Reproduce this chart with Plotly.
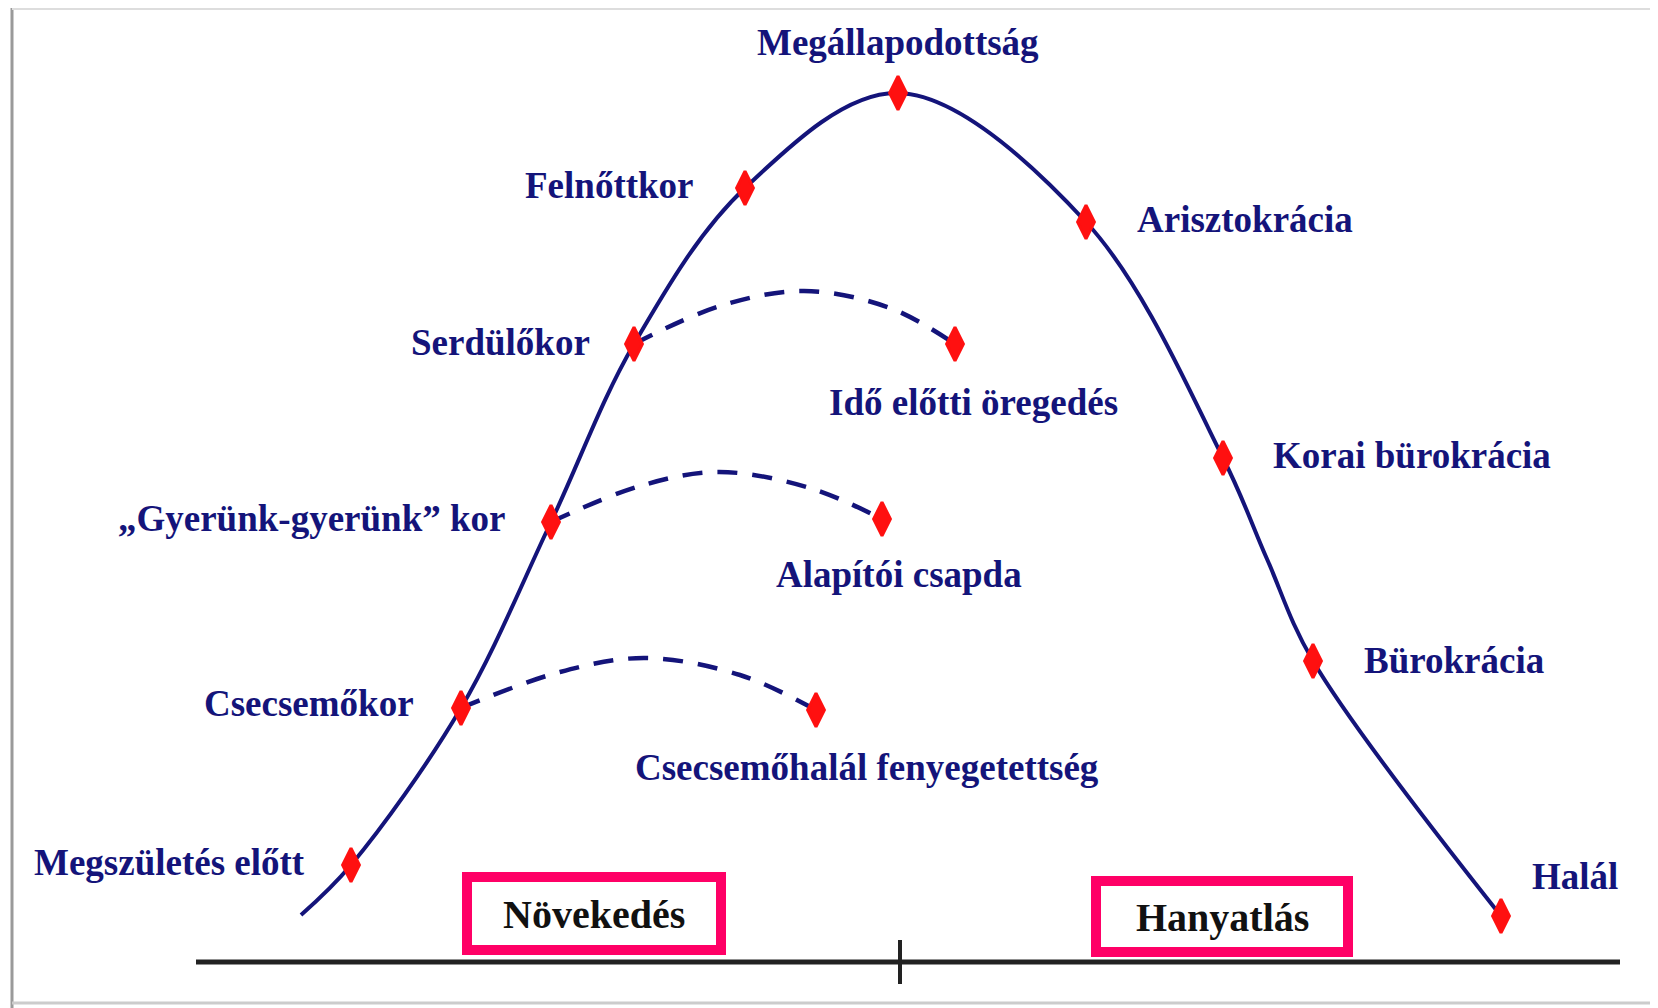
import plotly.graph_objects as go

# Main life-cycle curve (x, y in picture units, y grows downward)
curve_x = [301, 351, 461, 551, 634, 745, 898, 1086, 1223, 1267, 1313, 1501]
curve_y = [915, 865, 708, 522, 344, 188, 93, 222, 458, 559, 661, 916]

stage_names = ["Megszületés előtt", "Csecsemőkor", "„Gyerünk-gyerünk” kor", "Serdülőkor",
               "Felnőttkor", "Megállapodottság", "Arisztokrácia", "Korai bürokrácia",
               "Bürokrácia", "Halál"]
stage_x = [351, 461, 551, 634, 745, 898, 1086, 1223, 1313, 1501]
stage_y = [865, 708, 522, 344, 188, 93, 222, 458, 661, 916]

# Pathological branches (dashed)
trap_names = ["Csecsemőhalál fenyegetettség", "Alapítói csapda", "Idő előtti öregedés"]
trap_x = [[461, 560, 645, 740, 816], [551, 640, 719, 810, 882], [634, 720, 804, 890, 955]]
trap_y = [[708, 672, 658, 675, 710], [522, 486, 472, 488, 519], [344, 306, 291, 308, 344]]

phase_names = ["Növekedés", "Hanyatlás"]

NAVY = "#14147a"
RED = "#ff1010"
PINK = "#ff0066"
FONT = "Liberation Serif"
OFF = 8  # page body margin compensation

fig = go.Figure()

fig.add_trace(go.Scatter(x=curve_x, y=curve_y, mode="lines",
                         line=dict(color=NAVY, width=4, shape="spline", smoothing=1.0),
                         hoverinfo="skip"))
for tx, ty in zip(trap_x, trap_y):
    fig.add_trace(go.Scatter(x=tx, y=ty, mode="lines",
                             line=dict(color=NAVY, width=4.5, shape="spline", dash="20px,15px"),
                             hoverinfo="skip"))
    fig.add_trace(go.Scatter(x=[tx[-1]], y=[ty[-1]], mode="markers",
                             marker=dict(symbol="diamond-tall", size=24, color=RED,
                                         line=dict(color=RED, width=3)),
                             hoverinfo="skip"))
fig.add_trace(go.Scatter(x=stage_x, y=stage_y, mode="markers",
                         marker=dict(symbol="diamond-tall", size=24, color=RED,
                                     line=dict(color=RED, width=3)),
                         hoverinfo="skip"))

tf = dict(family=FONT, size=37, color=NAVY, weight="bold")

# stage labels: (dx, dy, anchor)
label_pos = [(-44, -3, "right"), (-45, -5, "right"), (-43, -4, "right"), (-42, -2, "right"),
             (-49, -3, "right"), (0, -51, "center"), (49, -3, "left"), (48, -3, "left"),
             (49, -1, "left"), (29, -40, "left")]
for name, x, y, (dx, dy, anc) in zip(stage_names, stage_x, stage_y, label_pos):
    fig.add_annotation(x=x + dx, y=y + dy, text=name, showarrow=False, xanchor=anc,
                       yanchor="middle", font=tf)

trap_label_off = [(51, 57), (17, 55), (18, 58)]
for name, tx, ty, (dx, dy) in zip(trap_names, trap_x, trap_y, trap_label_off):
    fig.add_annotation(x=tx[-1] + dx, y=ty[-1] + dy, text=name,
                       showarrow=False, xanchor="center", yanchor="middle", font=tf)

# axis line and centre tick
fig.add_shape(type="line", x0=196, x1=1620, y0=962, y1=962, line=dict(color="#222222", width=5))
fig.add_shape(type="line", x0=900, x1=900, y0=940, y1=984, line=dict(color="#222222", width=4))

# phase boxes
boxes = [(467, 877, 721, 950), (1096, 881, 1348, 952)]
for (x0, y0, x1, y1), name in zip(boxes, phase_names):
    fig.add_shape(type="rect", x0=x0, y0=y0, x1=x1, y1=y1,
                  line=dict(color=PINK, width=10), fillcolor="white", layer="below")
    fig.add_annotation(x=(x0 + x1) / 2, y=(y0 + y1) / 2 + 1, text=name, showarrow=False,
                       font=dict(family=FONT, size=40, color="#111111", weight="bold"))

# frame lines
fig.add_shape(type="line", x0=12, x1=12, y0=8, y1=1008, line=dict(color="#9a9a9a", width=3))
fig.add_shape(type="line", x0=12, x1=1658, y0=9, y1=9, line=dict(color="#dddddd", width=2))
fig.add_shape(type="line", x0=12, x1=1658, y0=1003, y1=1003, line=dict(color="#cccccc", width=3))

fig.update_layout(
    width=1658 - OFF, height=1008 - OFF, margin=dict(l=0, r=0, t=0, b=0),
    paper_bgcolor="white", plot_bgcolor="white", showlegend=False,
    xaxis=dict(range=[OFF, 1658], visible=False, fixedrange=True),
    yaxis=dict(range=[1008, OFF], visible=False, fixedrange=True),
)
fig.write_html("out.html")
